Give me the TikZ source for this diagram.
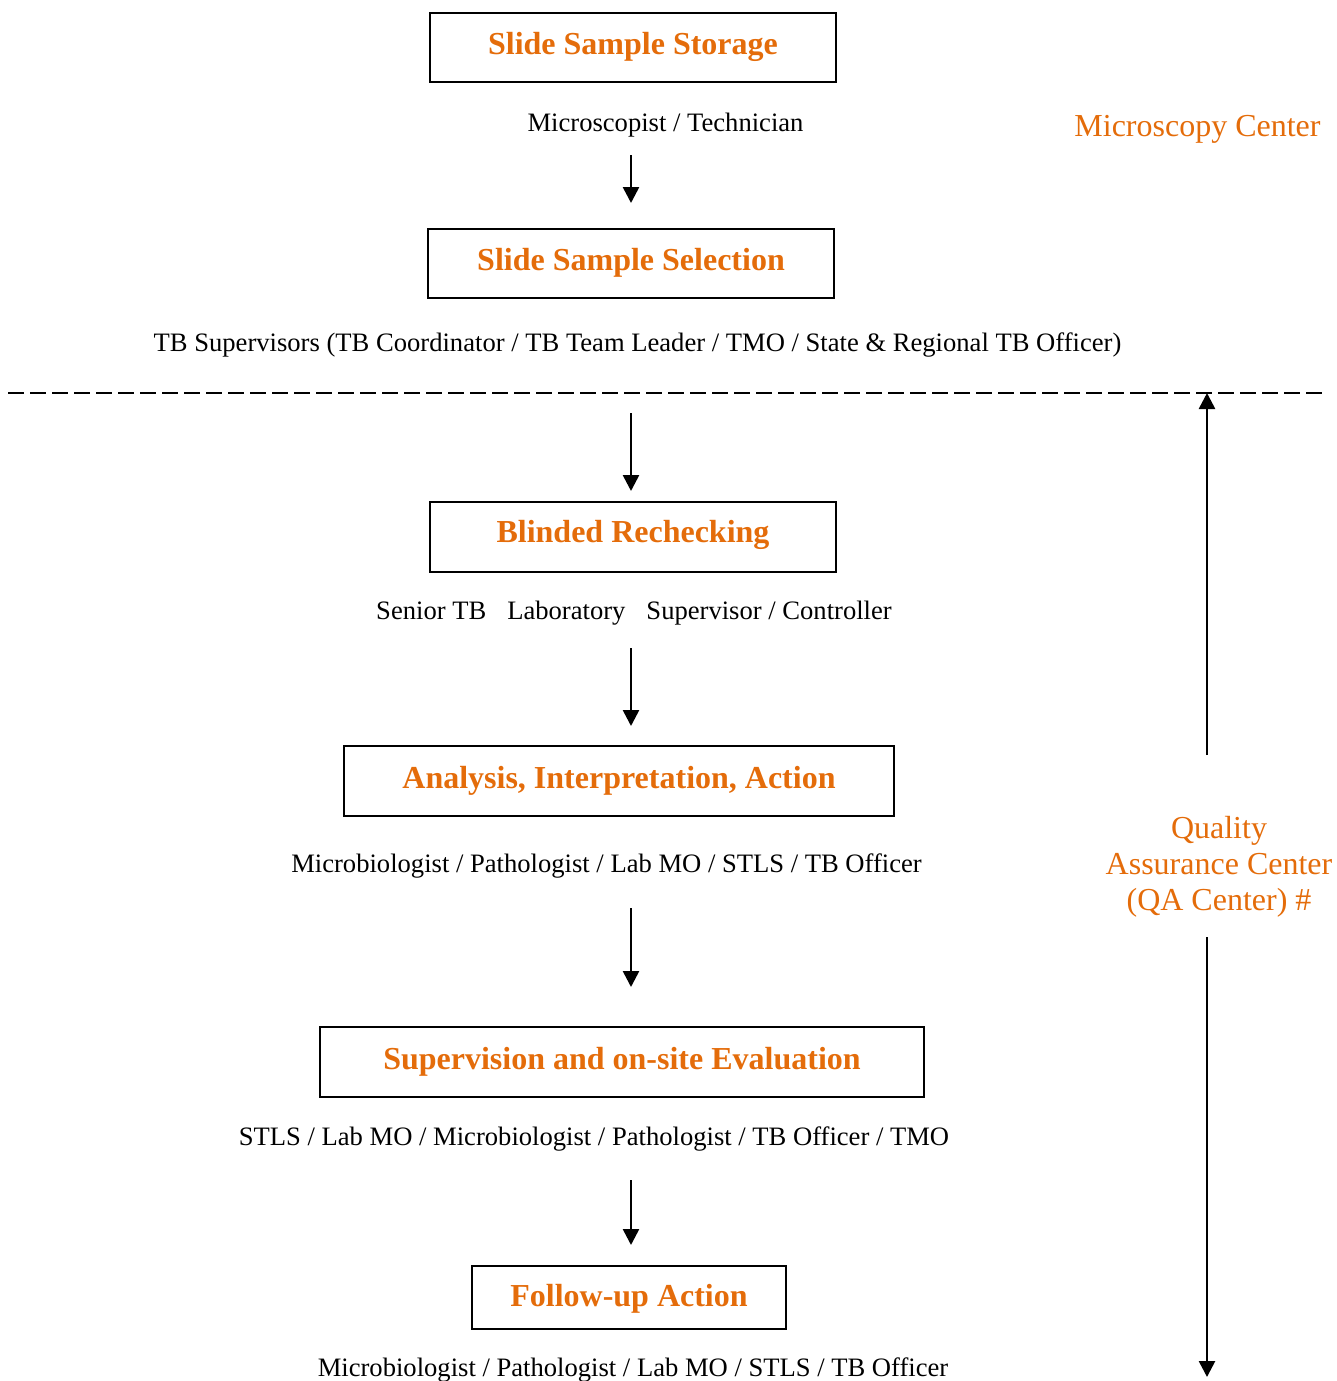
\documentclass[tikz,border=0pt]{standalone}
\usepackage{fontspec}
\setmainfont{Liberation Serif}
\usetikzlibrary{arrows.meta}
\definecolor{qaorange}{RGB}{228,108,10}
\begin{document}
\begin{tikzpicture}[x=1pt,y=-1pt,
  box/.style={draw, line width=2pt, inner sep=0pt, text=qaorange,
    font=\fontsize{32}{36}\selectfont\bfseries, text height=22pt, text depth=8pt},
  role/.style={anchor=base, font=\fontsize{26.6}{30}\selectfont, inner sep=0pt},
  arr/.style={line width=2.6pt, -{Triangle[width=16pt,length=16pt]}},
  side/.style={text=qaorange, font=\fontsize{32}{36}\selectfont, align=center, inner sep=0pt},
  divider/.style={line width=2.2pt, dash pattern=on 15.5pt off 6.5pt}]
\useasboundingbox (0,0) rectangle (1337,1381);

% boxes
\node[box, minimum width=406pt, minimum height=69pt] (b1) at (633,47.5) {Slide Sample Storage};
\node[box, minimum width=406pt, minimum height=69pt] (b2) at (631,263.5) {Slide Sample Selection};
\node[box, minimum width=406pt, minimum height=70pt, text depth=11pt] (b3) at (633,537) {Blinded Rechecking};
\node[box, minimum width=550pt, minimum height=70pt] (b4) at (619,781) {Analysis, Interpretation, Action};
\node[box, minimum width=604pt, minimum height=70pt] (b5) at (622,1062) {Supervision and on-site Evaluation};
\node[box, minimum width=314pt, minimum height=63pt, text depth=5pt] (b6) at (629,1297.5) {Follow-up Action};

% role labels
\node[role] (r1) at (665.5,131.5) {Microscopist / Technician};
\node[role] (r2) at (637.5,351.5) {TB Supervisors (TB Coordinator / TB Team Leader / TMO / State \& Regional TB Officer)};
\node[role] (r3) at (634,619.5) {Senior TB\hspace{21pt}Laboratory\hspace{21pt}Supervisor / Controller};
\node[role] (r4) at (606.5,872.5) {Microbiologist / Pathologist / Lab MO / STLS / TB Officer};
\node[role] (r5) at (594,1145.5) {STLS / Lab MO / Microbiologist / Pathologist / TB Officer / TMO};
\node[role] (r6) at (633,1376.5) {Microbiologist / Pathologist / Lab MO / STLS / TB Officer};

% side labels
\node[side, anchor=base] (mc) at (1197.5,136) {Microscopy Center};
\node[side] (qa) at (1219,867) {Quality\\Assurance Center\\(QA Center) \#};

% divider
\coordinate (dl) at (8,393);
\coordinate (dr) at (1322,393);
\draw[divider] (dl) -- (dr);

% flow arrows
\coordinate (a1s) at (631,155);  \coordinate (a1e) at (631,203);
\coordinate (a2s) at (631,413);  \coordinate (a2e) at (631,491);
\coordinate (a3s) at (631,648);  \coordinate (a3e) at (631,726);
\coordinate (a4s) at (631,908);  \coordinate (a4e) at (631,987);
\coordinate (a5s) at (631,1180); \coordinate (a5e) at (631,1245);
\draw[arr] (a1s) -- (a1e);
\draw[arr] (a2s) -- (a2e);
\draw[arr] (a3s) -- (a3e);
\draw[arr] (a4s) -- (a4e);
\draw[arr] (a5s) -- (a5e);

% QA arrows
\coordinate (q1s) at (1207,755);  \coordinate (q1e) at (1207,393);
\coordinate (q2s) at (1207,937);  \coordinate (q2e) at (1207,1377);
\draw[arr] (q1s) -- (q1e);
\draw[arr] (q2s) -- (q2e);
\end{tikzpicture}
\end{document}
